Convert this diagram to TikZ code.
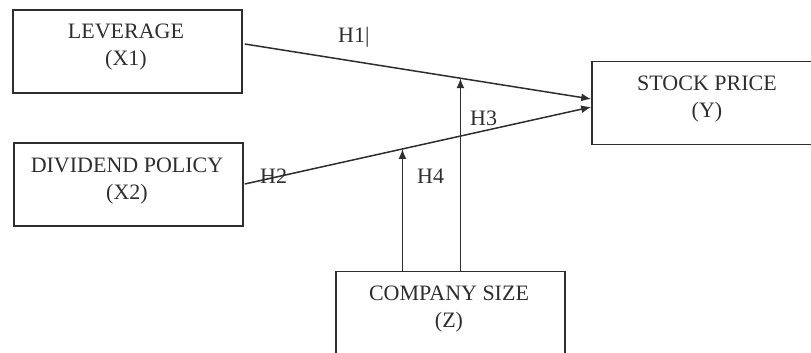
\documentclass[tikz,border=0pt]{standalone}
\usepackage{fontspec}
\setmainfont{Liberation Serif}
\usetikzlibrary{arrows.meta,calc}
\definecolor{ink}{HTML}{2E2E2E}
\begin{document}
\begin{tikzpicture}[x=1pt,y=-1pt,
  box/.style={draw=ink,line width=1.6pt,minimum width=229pt,minimum height=83pt,inner sep=0pt},
  txt/.style={anchor=north,align=center,inner sep=0pt,text=ink,font=\fontsize{22}{27}\selectfont},
  lbl/.style={anchor=base west,inner sep=0pt,text=ink,font=\fontsize{22}{25}\selectfont},
  conn/.style={draw=ink,line width=1.5pt},
  arr/.style={conn,-{Latex[length=10pt,width=8pt]}}]
\useasboundingbox (0,0) rectangle (811,353);
\clip (0,0) rectangle (811,353);
\fill[white] (0,0) rectangle (811,353);
% boxes
\node[box] (lev) at (127.5,51.5) {};
\node[box] (div) at (128.5,184.5) {};
\node[box] (stk) at (706.5,103) {};
\node[box] (cmp) at (450.5,313) {};
% box texts
\node[txt] (levt) at (126,24) {LEVERAGE\\(X1)};
\node[txt] (divt) at (127,158) {DIVIDEND POLICY\\(X2)};
\node[txt] (stkt) at (707,76) {STOCK PRICE\\(Y)};
\node[txt] (cmpt) at (449,286) {COMPANY SIZE\\(Z)};
% main paths
\coordinate (h1s) at ($(lev.east)+(2,-7.5)$);
\coordinate (h1e) at ($(stk.west)+(0,-4)$);
\coordinate (h2s) at ($(div.east)+(1,-0.5)$);
\coordinate (h2e) at ($(stk.west)+(0,4)$);
\draw[arr] (h1s) -- (h1e) coordinate[pos=0.6225] (m1);
\draw[arr] (h2s) -- (h2e) coordinate[pos=0.455] (m2);
% moderating arrows
\draw[arr] (m2 |- cmp.north) -- (m2);
\draw[arr] (m1 |- cmp.north) -- (m1);
% labels
\node[lbl] (l1) at (338,43) {H1|};
\node[lbl] (l2) at (260,183) {H2};
\node[lbl] (l3) at (470,125) {H3};
\node[lbl] (l4) at (417,183) {H4};
\end{tikzpicture}
\end{document}
